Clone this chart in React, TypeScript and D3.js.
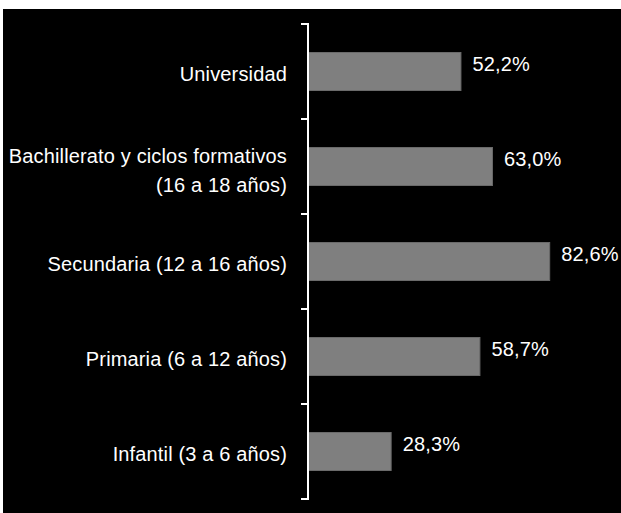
import { useEffect, useRef } from "react";
import * as d3 from "d3";

// categories from top to bottom
const categories = [
  "Universidad",
  "Bachillerato y ciclos formativos\n(16 a 18 años)",
  "Secundaria (12 a 16 años)",
  "Primaria (6 a 12 años)",
  "Infantil (3 a 6 años)",
];
const values = [52.2, 63.0, 82.6, 58.7, 28.3];
const valueLabels = ["52,2%", "63,0%", "82,6%", "58,7%", "28,3%"];

const App = () => {
  const ref = useRef<SVGSVGElement>(null);

  useEffect(() => {
    const svg = d3.select(ref.current);
    const width = 621,
      height = 513;
    svg.selectAll("*").remove();
    svg.attr("width", width).attr("height", height);

    svg.append("rect").attr("width", width).attr("height", height).attr("fill", "#fff");
    svg
      .append("rect")
      .attr("x", 3)
      .attr("y", 9)
      .attr("width", width - 3)
      .attr("height", height - 9)
      .attr("fill", "#000");

    const font = "'Liberation Sans', Arial, Helvetica, sans-serif";

    const y = d3
      .scaleBand<string>()
      .domain(categories)
      .range([24, 499])
      .paddingInner(0.6)
      .paddingOuter(0.3);
    const x = d3.scaleLinear().domain([0, 100]).range([308, 600]);

    /*** bars ***/
    svg
      .selectAll(".bar")
      .data(categories)
      .enter()
      .append("rect")
      .attr("x", x(0) + 0.5)
      .attr("y", (d) => y(d) ?? 0)
      .attr("width", (_, i) => x(values[i]) - x(0))
      .attr("height", y.bandwidth())
      .attr("fill", "#7f7f7f")
      .attr("stroke", "#6a6a6a")
      .attr("stroke-width", 1);

    /*** value labels ***/
    svg
      .selectAll(".val")
      .data(categories)
      .enter()
      .append("text")
      .attr("x", (_, i) => x(values[i]) + 12)
      .attr("y", (d) => (y(d) ?? 0) + 18)
      .attr("fill", "#fff")
      .style("font-family", font)
      .style("font-size", "20px")
      .style("letter-spacing", "0.15px")
      .text((_, i) => valueLabels[i]);

    /*** axis line + ticks at band boundaries ***/
    const step = y.step();
    const bounds = d3.range(categories.length + 1).map((i) => 24 + i * step);
    const axis = svg.append("g").attr("stroke", "#fff").attr("stroke-width", 2);
    axis
      .append("line")
      .attr("x1", x(0))
      .attr("x2", x(0))
      .attr("y1", bounds[0] - 1)
      .attr("y2", bounds[bounds.length - 1] + 1);
    axis
      .selectAll(".tick")
      .data(bounds)
      .enter()
      .append("line")
      .attr("x1", x(0) - 7)
      .attr("x2", x(0))
      .attr("y1", (d) => d)
      .attr("y2", (d) => d);

    /*** category labels ***/
    categories.forEach((c) => {
      const lines = c.split("\n");
      const cy = (y(c) ?? 0) + y.bandwidth() / 2;
      const t = svg
        .append("text")
        .attr("text-anchor", "end")
        .attr("fill", "#fff")
        .style("font-family", font)
        .style("font-size", "20px")
        .style("letter-spacing", "0.15px");
      lines.forEach((l, j) => {
        t.append("tspan")
          .attr("x", 287)
          .attr("y", cy + 9 - (lines.length - 1) * 12.5 + j * 29)
          .text(l);
      });
    });
  }, []);

  return <svg ref={ref} style={{ position: "absolute", left: 0, top: 0 }} />;
};

export default App;
